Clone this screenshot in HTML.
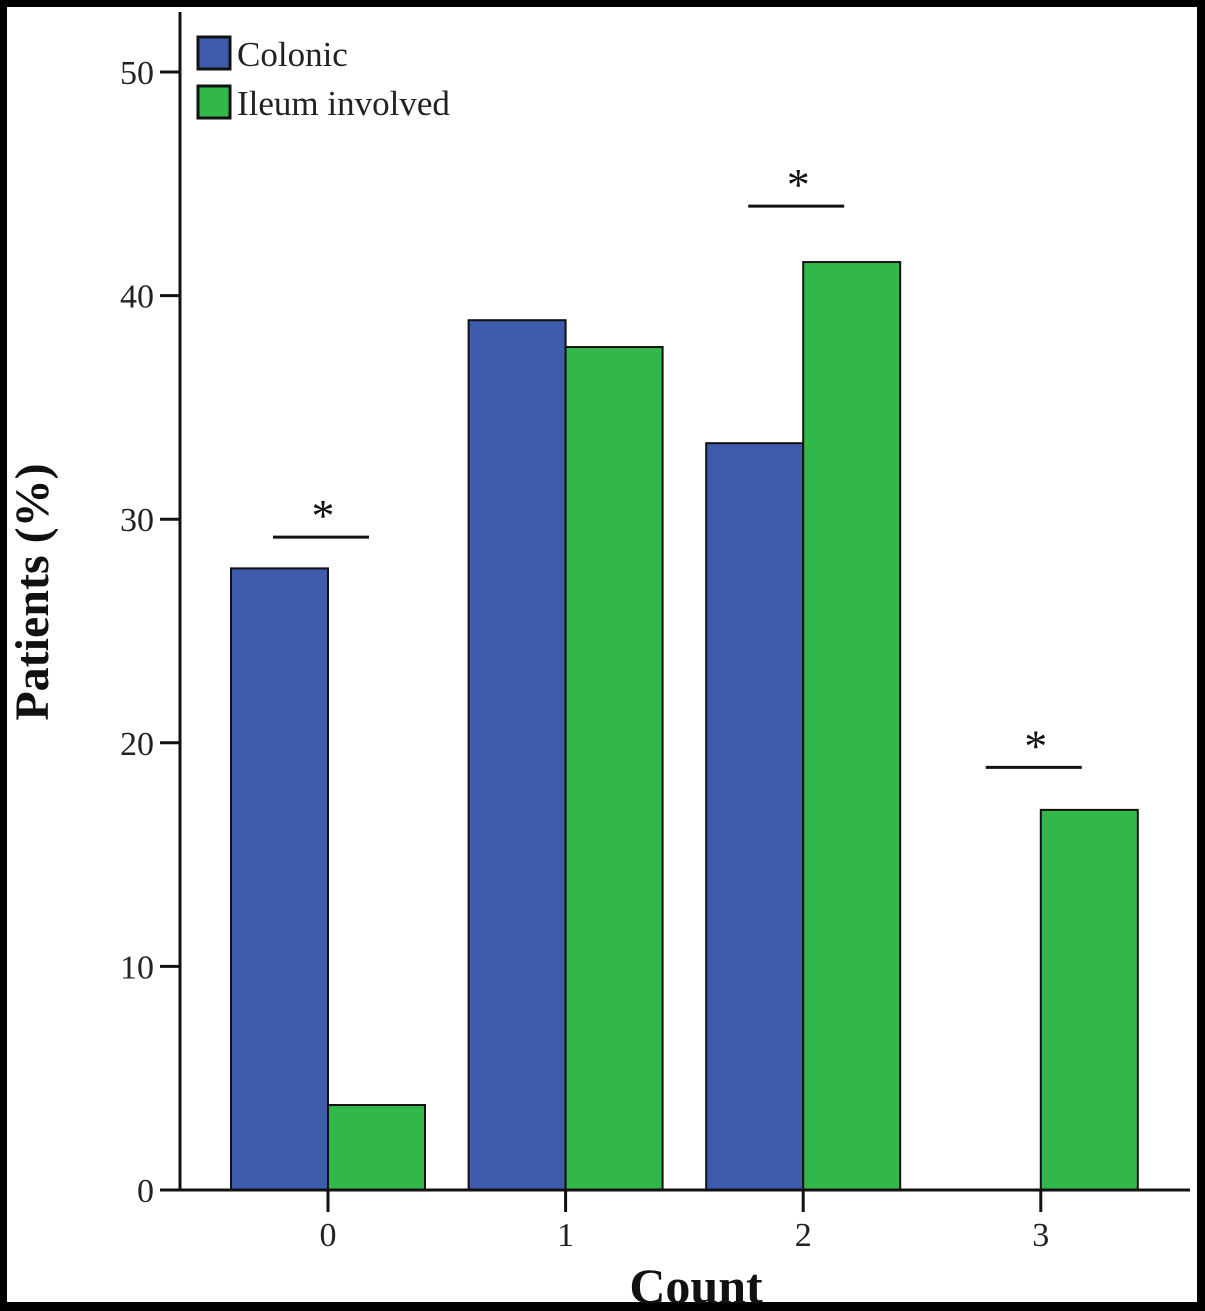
<!DOCTYPE html>
<html><head><meta charset="utf-8"><style>
html,body{margin:0;padding:0;background:#000;}
svg{display:block;}
text{font-family:"Liberation Serif","DejaVu Serif",serif;}
</style></head><body>
<svg width="1205" height="1311" xmlns="http://www.w3.org/2000/svg">
<rect x="0" y="0" width="1205" height="1311" fill="#000"/>
<rect x="7" y="7" width="1190" height="1295" fill="#fff"/>
<g id="plot"></g>
</svg>
<script>
const categories = ["0","1","2","3"];
const colonic = [27.8, 38.9, 33.4, 0];
const ileum = [3.8, 37.7, 41.5, 17.0];
const yTicks = [0,10,20,30,40,50];
const sigGroups = [0,2,3];
const sigLevels = [29.2,44.0,18.9];

const NS="http://www.w3.org/2000/svg";
const g=document.getElementById('plot');
const y0=1190, yPerUnit=(1190-72)/50;
const yS=v=>y0-v*yPerUnit;
const xC=i=>328+i*237.6;
const bw=97;
function mk(t,a,p){const e=document.createElementNS(NS,t);for(const k in a)e.setAttribute(k,a[k]);(p||g).appendChild(e);return e;}

categories.forEach((c,i)=>{
  const b1=mk('rect',{x:xC(i)-bw,y:yS(colonic[i]),width:bw,height:colonic[i]*yPerUnit,fill:'#3e5bae',stroke:'#111','stroke-width':2});
  
  
  const b2=mk('rect',{x:xC(i),y:yS(ileum[i]),width:bw,height:ileum[i]*yPerUnit,fill:'#31b74a',stroke:'#111','stroke-width':2});
  
  
  const t=mk('line',{x1:xC(i),x2:xC(i),y1:y0,y2:1212,stroke:'#111','stroke-width':3});
  
  
  const l=mk('text',{x:xC(i),y:1246,'text-anchor':'middle','font-size':34,fill:'#222'});
  l.textContent=c;
  
  
});
sigGroups.forEach((i,k)=>{
  const ly=yS(sigLevels[k]);
  const ln=mk('line',{x1:xC(i)-55,x2:xC(i)+41,y1:ly,y2:ly,stroke:'#111','stroke-width':3});
  
  
  const s=mk('text',{x:xC(i)-5,y:ly-6,'text-anchor':'middle','font-size':46,fill:'#111'});
  s.textContent='*';
  
  
});
const ya=mk('line',{x1:180,x2:180,y1:12,y2:y0,stroke:'#111','stroke-width':3});


const xa=mk('line',{x1:160,x2:1190,y1:y0,y2:y0,stroke:'#111','stroke-width':3});


yTicks.forEach(v=>{
  const t=mk('line',{x1:160,x2:180,y1:yS(v),y2:yS(v),stroke:'#111','stroke-width':3});
  
  
  const l=mk('text',{x:154,y:yS(v)+12,'text-anchor':'end','font-size':34,fill:'#222'});
  l.textContent=v;
  
  
});
const yt=mk('text',{x:0,y:0,transform:'translate(48,592) rotate(-90)','text-anchor':'middle','font-size':48,'font-weight':'bold',fill:'#111'});
yt.textContent='Patients (%)';


const xt=mk('text',{x:696,y:1303,'text-anchor':'middle','font-size':50,'font-weight':'bold',fill:'#111'});
xt.textContent='Count';


[["Colonic","#3e5bae",37],["Ileum involved","#31b74a",86]].forEach(([n,c,y])=>{
  const r=mk('rect',{x:198,y:y,width:32,height:32,fill:c,stroke:'#111','stroke-width':3});
  
  
  const t=mk('text',{x:237,y:y+29,'font-size':35,fill:'#222'});
  t.textContent=n;
  
  
});
</script>
</body></html>
